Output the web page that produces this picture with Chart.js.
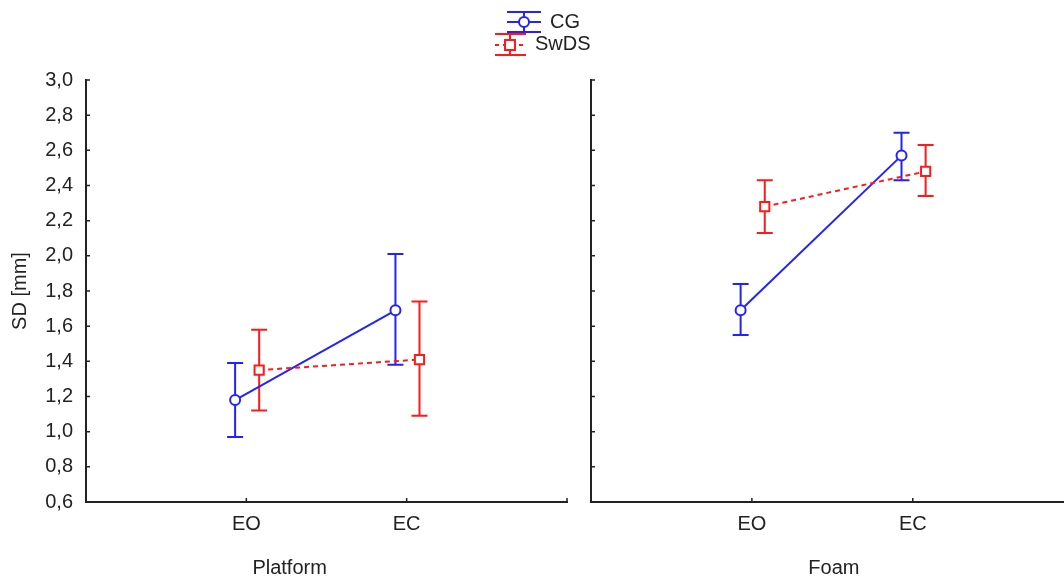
<!DOCTYPE html>
<html lang="en">
<head>
    <meta charset="UTF-8">
    <title>SD by condition</title>
    <script src="https://cdn.jsdelivr.net/npm/chart.js"></script>
    <style>
        html, body {
            margin: 0;
            background: #fff;
            overflow: hidden;
            font-family: "Liberation Sans", Arial, sans-serif;
        }
        .panel {
            position: absolute;
            left: 0;
            top: 0;
            width: 1064px;
            height: 580px;
        }
        canvas { display: block; }
    </style>
</head>
<body>
    <div class="panel"><canvas id="left"></canvas></div>
    <div class="panel"><canvas id="right"></canvas></div>

    <script>
        // conditions on the x axis and panel names
        const groups = ['EO', 'EC'];
        const panelNames = ['Platform', 'Foam'];
        const seriesNames = ['CG', 'SwDS'];
        const yTicks = [0.6, 0.8, 1.0, 1.2, 1.4, 1.6, 1.8, 2.0, 2.2, 2.4, 2.6, 2.8, 3.0];

        // Platform panel
        const cgPlatformMean = [1.18, 1.69];
        const cgPlatformLow = [0.97, 1.38];
        const cgPlatformHigh = [1.39, 2.01];
        const swdsPlatformMean = [1.35, 1.41];
        const swdsPlatformLow = [1.12, 1.09];
        const swdsPlatformHigh = [1.58, 1.74];

        // Foam panel
        const cgFoamMean = [1.69, 2.57];
        const cgFoamLow = [1.55, 2.43];
        const cgFoamHigh = [1.84, 2.70];
        const swdsFoamMean = [2.28, 2.48];
        const swdsFoamLow = [2.13, 2.34];
        const swdsFoamHigh = [2.43, 2.63];

        const BLUE = '#2222ff';
        const RED = '#ff1a1a';
        const AXIS = '#222';
        const FONT = '"Liberation Sans", Arial, sans-serif';
        const FS = 20;

        // small side shift so the two groups don't overlap
        const SHIFT_CG = -0.07;
        const SHIFT_SW = 0.08;

        function pts(means, shift) {
            return means.map((v, i) => ({ x: i + 1 + shift, y: v }));
        }

        function makeSets(cgM, cgL, cgH, swM, swL, swH) {
            return [
                {
                    label: seriesNames[1],
                    data: pts(swM, SHIFT_SW),
                    low: swL, high: swH,
                    borderColor: RED,
                    borderWidth: 2,
                    borderDash: [5, 4],
                    pointStyle: 'rect',
                    pointRadius: 6.5,
                    pointBorderWidth: 2,
                    pointBackgroundColor: '#fff',
                    pointBorderColor: RED
                },
                {
                    label: seriesNames[0],
                    data: pts(cgM, SHIFT_CG),
                    low: cgL, high: cgH,
                    borderColor: BLUE,
                    borderWidth: 2,
                    pointStyle: 'circle',
                    pointRadius: 5,
                    pointBorderWidth: 2,
                    pointBackgroundColor: '#fff',
                    pointBorderColor: BLUE
                }
            ];
        }

        // error bars from the low/high arrays
        const errorBars = {
            id: 'errorBars',
            beforeDatasetsDraw(chart) {
                const ctx = chart.ctx;
                const xs = chart.scales.x, ys = chart.scales.y;
                chart.data.datasets.forEach(ds => {
                    ctx.save();
                    ctx.strokeStyle = ds.borderColor;
                    ctx.lineWidth = 2;
                    ds.data.forEach((p, i) => {
                        const x = xs.getPixelForValue(p.x);
                        const y1 = ys.getPixelForValue(ds.low[i]);
                        const y2 = ys.getPixelForValue(ds.high[i]);
                        ctx.beginPath();
                        ctx.moveTo(x, y1); ctx.lineTo(x, y2);
                        ctx.moveTo(x - 8, y1); ctx.lineTo(x + 8, y1);
                        ctx.moveTo(x - 8, y2); ctx.lineTo(x + 8, y2);
                        ctx.stroke();
                    });
                    ctx.restore();
                });
            }
        };

        // inside tick marks + panel caption
        const frame = {
            id: 'frame',
            afterDraw(chart, args, opts) {
                const ctx = chart.ctx;
                const xs = chart.scales.x, ys = chart.scales.y;
                const a = chart.chartArea;
                ctx.save();
                ctx.strokeStyle = AXIS;
                ctx.lineWidth = 1.5;
                ctx.beginPath();
                yTicks.forEach(v => {
                    const y = ys.getPixelForValue(v);
                    ctx.moveTo(a.left, y); ctx.lineTo(a.left + 4, y);
                });
                const xt = [1, 2];
                if (xs.max === 3) xt.push(3);
                xt.forEach(v => {
                    const x = xs.getPixelForValue(v);
                    ctx.moveTo(x, a.bottom); ctx.lineTo(x, a.bottom - 4);
                });
                ctx.stroke();
                ctx.fillStyle = '#222';
                ctx.font = FS + 'px ' + FONT;
                ctx.textAlign = 'center';
                ctx.textBaseline = 'middle';
                ctx.fillText(opts.caption, xs.getPixelForValue(opts.captionAt), 568);
                ctx.restore();
            }
        };

        // legend drawn at the top centre of the page
        const legendTop = {
            id: 'legendTop',
            afterDraw(chart) {
                const ctx = chart.ctx;
                ctx.save();
                ctx.lineWidth = 2;
                // CG
                ctx.strokeStyle = BLUE;
                ctx.beginPath();
                ctx.moveTo(507, 12); ctx.lineTo(541, 12);
                ctx.moveTo(507, 22); ctx.lineTo(541, 22);
                ctx.moveTo(507, 32); ctx.lineTo(541, 32);
                ctx.moveTo(524, 12); ctx.lineTo(524, 32);
                ctx.stroke();
                ctx.fillStyle = '#fff';
                ctx.beginPath(); ctx.arc(524, 22, 5, 0, Math.PI * 2); ctx.fill(); ctx.stroke();
                // SwDS
                ctx.strokeStyle = RED;
                ctx.beginPath();
                ctx.moveTo(495, 34); ctx.lineTo(526, 34);
                ctx.moveTo(495, 55); ctx.lineTo(526, 55);
                ctx.moveTo(510, 34); ctx.lineTo(510, 55);
                ctx.stroke();
                ctx.setLineDash([4, 4]);
                ctx.beginPath(); ctx.moveTo(495, 45); ctx.lineTo(526, 45); ctx.stroke();
                ctx.setLineDash([]);
                ctx.fillRect(505, 40, 10, 10); ctx.strokeRect(505, 40, 10, 10);
                ctx.fillStyle = '#222';
                ctx.font = FS + 'px ' + FONT;
                ctx.textBaseline = 'middle';
                ctx.fillText(seriesNames[0], 550, 22);
                ctx.fillText(seriesNames[1], 535, 44);
                ctx.restore();
            }
        };

        function fmt(v) {
            return v.toFixed(1).replace('.', ',');
        }

        function makeChart(id, sets, xMax, showY, pad, caption, captionAt) {
            return new Chart(document.getElementById(id), {
                type: 'line',
                data: { datasets: sets },
                plugins: [errorBars, frame].concat(showY ? [legendTop] : []),
                options: {
                    responsive: true,
                    maintainAspectRatio: false,
                    animation: false,
                    layout: { padding: pad, autoPadding: false },
                    plugins: {
                        legend: { display: false },
                        tooltip: { enabled: false },
                        frame: { caption: caption, captionAt: captionAt }
                    },
                    scales: {
                        x: {
                            type: 'linear',
                            min: 0, max: xMax,
                            afterBuildTicks: s => { s.ticks = [{ value: 1 }, { value: 2 }]; },
                            afterFit: s => { s.height = 78; s.paddingLeft = 0; s.paddingRight = 0; },
                            ticks: {
                                callback: v => groups[v - 1] || '',
                                color: '#222',
                                font: { family: FONT, size: FS },
                                padding: 10,
                                maxRotation: 0
                            },
                            grid: { display: false, drawTicks: false },
                            border: { display: true, color: AXIS, width: 2 }
                        },
                        y: {
                            min: 0.6, max: 3.0,
                            afterBuildTicks: s => { s.ticks = yTicks.map(v => ({ value: v })); },
                            afterFit: s => { s.width = showY ? 86 : 0; s.paddingTop = 0; s.paddingBottom = 0; },
                            ticks: {
                                display: showY,
                                callback: v => fmt(v),
                                color: '#222',
                                font: { family: FONT, size: FS },
                                padding: 13
                            },
                            title: {
                                display: showY,
                                text: 'SD [mm]',
                                color: '#222',
                                font: { family: FONT, size: FS },
                                padding: { top: 8, bottom: 0 }
                            },
                            grid: { display: false, drawTicks: false },
                            border: { display: true, color: AXIS, width: 2 }
                        }
                    }
                }
            });
        }

        makeChart('left',
            makeSets(cgPlatformMean, cgPlatformLow, cgPlatformHigh, swdsPlatformMean, swdsPlatformLow, swdsPlatformHigh),
            3, true, { left: 0, right: 497, top: 80, bottom: 0 }, panelNames[0], 1.27);

        makeChart('right',
            makeSets(cgFoamMean, cgFoamLow, cgFoamHigh, swdsFoamMean, swdsFoamLow, swdsFoamHigh),
            2.94, false, { left: 591, right: 0, top: 80, bottom: 0 }, panelNames[1], 1.51);
    </script>
</body>
</html>
